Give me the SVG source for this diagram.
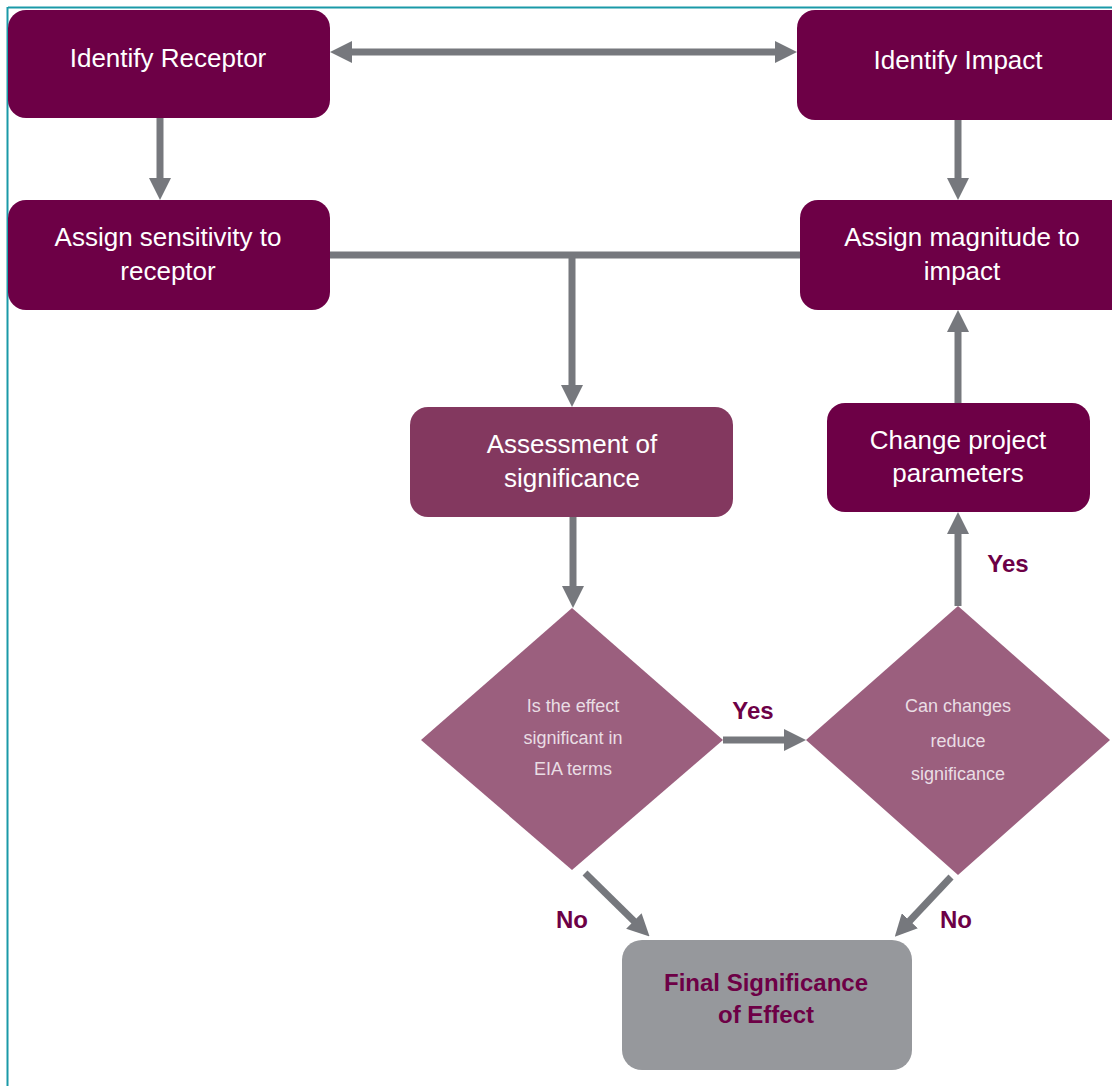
<svg xmlns="http://www.w3.org/2000/svg" width="1112" height="1086" viewBox="0 0 1112 1086">
<style>
.box{fill:#6d0046}
.box2{fill:#83385f}
.dia{fill:#9b5f7e}
.fin{fill:#96989c}
.t{font-family:"Liberation Sans",Arial,sans-serif;font-size:26px;fill:#ffffff;text-anchor:middle}
.d{font-family:"Liberation Sans",Arial,sans-serif;font-size:18px;fill:#e9dde4;text-anchor:middle}
.lab{font-family:"Liberation Sans",Arial,sans-serif;font-size:24px;font-weight:bold;fill:#6d0046;text-anchor:middle}
.ft{font-family:"Liberation Sans",Arial,sans-serif;font-size:24px;font-weight:bold;fill:#6d0046;text-anchor:middle}
.c{stroke:#76787d;stroke-width:7;fill:none}
</style>
<defs>
<marker id="ah" markerUnits="userSpaceOnUse" markerWidth="22" markerHeight="22" refX="10" refY="11" orient="auto-start-reverse" viewBox="0 0 22 22">
<path d="M0,0 L22,11 L0,22 z" fill="#76787d"/>
</marker>
</defs>
<rect width="1112" height="1086" fill="#ffffff"/>
<g id="frame">
<line x1="8" y1="7.5" x2="1112" y2="7.5" stroke="#1a9aa8" stroke-width="2"/>
<line x1="7.5" y1="7" x2="7.5" y2="1086" stroke="#1a9aa8" stroke-width="2"/>
</g>
<g id="connectors">
<line class="c" x1="342" y1="52" x2="785" y2="52" marker-start="url(#ah)" marker-end="url(#ah)"/>
<line class="c" x1="160" y1="118" x2="160" y2="188" marker-end="url(#ah)"/>
<line class="c" x1="958" y1="120" x2="958" y2="188" marker-end="url(#ah)"/>
<line class="c" x1="330" y1="255" x2="802" y2="255"/>
<line class="c" x1="572" y1="255" x2="572" y2="395" marker-end="url(#ah)"/>
<line class="c" x1="573" y1="517" x2="573" y2="596" marker-end="url(#ah)"/>
<line class="c" x1="723" y1="740" x2="794" y2="740" marker-end="url(#ah)"/>
<line class="c" x1="958" y1="606" x2="958" y2="524" marker-end="url(#ah)"/>
<line class="c" x1="958" y1="403" x2="958" y2="322" marker-end="url(#ah)"/>
<line class="c" x1="585" y1="873" x2="641" y2="928" marker-end="url(#ah)"/>
<line class="c" x1="951" y1="877" x2="903" y2="928" marker-end="url(#ah)"/>
</g>
<g id="identify-receptor">
<rect class="box" x="8" y="10" width="322" height="108" rx="18"/>
<text class="t" x="168" y="67">Identify Receptor</text>
</g>
<g id="identify-impact">
<rect class="box" x="797" y="10" width="335" height="110" rx="18"/>
<text class="t" x="958" y="69">Identify Impact</text>
</g>
<g id="assign-sensitivity">
<rect class="box" x="8" y="200" width="322" height="110" rx="18"/>
<text class="t" x="168" y="246">Assign sensitivity to</text>
<text class="t" x="168" y="280">receptor</text>
</g>
<g id="assign-magnitude">
<rect class="box" x="800" y="200" width="332" height="110" rx="18"/>
<text class="t" x="962" y="246">Assign magnitude to</text>
<text class="t" x="962" y="280">impact</text>
</g>
<g id="assessment">
<rect class="box2" x="410" y="407" width="323" height="110" rx="18"/>
<text class="t" x="572" y="453">Assessment of</text>
<text class="t" x="572" y="487">significance</text>
</g>
<g id="change-parameters">
<rect class="box" x="827" y="403" width="263" height="109" rx="18"/>
<text class="t" x="958" y="449">Change project</text>
<text class="t" x="958" y="482">parameters</text>
</g>
<g id="decision-significant">
<polygon class="dia" points="572,608 723,740 572,870 421,740"/>
<text class="d" x="573" y="712">Is the effect</text>
<text class="d" x="573" y="744">significant in</text>
<text class="d" x="573" y="775">EIA terms</text>
</g>
<g id="decision-reduce">
<polygon class="dia" points="958,606 1110,740 958,875 806,740"/>
<text class="d" x="958" y="712">Can changes</text>
<text class="d" x="958" y="747">reduce</text>
<text class="d" x="958" y="780">significance</text>
</g>
<g id="final">
<rect class="fin" x="622" y="940" width="290" height="130" rx="20"/>
<text class="ft" x="766" y="991">Final Significance</text>
<text class="ft" x="766" y="1023">of Effect</text>
</g>
<g id="labels">
<text class="lab" x="753" y="719">Yes</text>
<text class="lab" x="1008" y="572">Yes</text>
<text class="lab" x="572" y="928">No</text>
<text class="lab" x="956" y="928">No</text>
</g>
</svg>
